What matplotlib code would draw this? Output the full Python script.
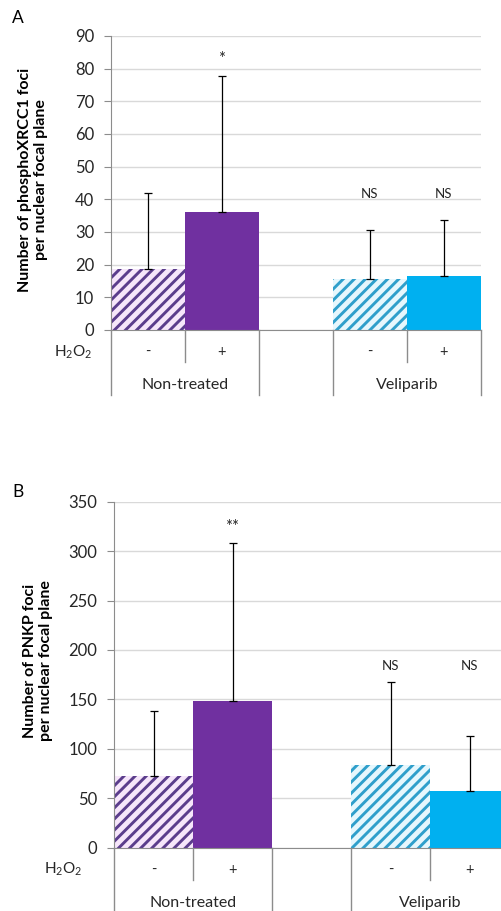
import matplotlib
matplotlib.use("Agg")
import matplotlib.pyplot as plt
import numpy as np

# values
conditions = ["-", "+", "", "-", "+"]
groups = ["Non-treated", "Veliparib"]

xrcc1_mean = [18.8, 36.2, 15.6, 16.5]
xrcc1_err = [23.1, 41.6, 15.1, 17.1]
xrcc1_sig = ["", "*", "NS", "NS"]

pnkp_mean = [72.5, 148.0, 84.0, 57.3]
pnkp_err = [66.0, 160.0, 84.0, 56.0]
pnkp_sig = ["", "**", "NS", "NS"]

PURPLE = "#7030A0"
BLUE = "#00B0F0"
GRID = "#D9D9D9"
AXIS = "#8C8C8C"
TEXT = "#262626"

plt.rcParams.update({
    "font.family": ["Lato", "DejaVu Sans"],
    "font.size": 10,
    "hatch.linewidth": 2.1,
    "mathtext.fontset": "custom",
    "mathtext.rm": "Lato",
    "mathtext.it": "Lato:italic",
    "mathtext.bf": "Lato:bold",
})

W, H = 502, 911
fig = plt.figure(figsize=(W / 100, H / 100), dpi=100)


def panel(rect_px, means, errs, sigs, ymax, ystep, ylabel, sig_y, ns_y,
          label_xy, h2o2_x, outer_to_bottom):
    left, top, width, height = rect_px
    ax = fig.add_axes([left / W, 1 - (top + height) / H, width / W, height / H])
    slots = [0, 1, 3, 4]
    faces = ["#F6E6FA", PURPLE, "#E6F7FD", BLUE]
    hatch_cols = ["#5B3D8C", PURPLE, "#2F9FCB", BLUE]
    hatches = ["///", None, "///", None]
    for s, m, e, fc, hc, hh in zip(slots, means, errs, faces, hatch_cols, hatches):
        ax.bar(s, m, width=1.0, color=fc, edgecolor=hc if hh else fc,
               hatch=hh, linewidth=0, zorder=2)
        ax.errorbar(s, m, yerr=[[0], [e]], color="black", elinewidth=0.9,
                    capsize=3, capthick=0.9, zorder=3)
    for s, t in zip(slots, sigs):
        if t.startswith("*"):
            ax.text(s, sig_y, t, ha="center", va="center", fontsize=12,
                    color=TEXT)
        elif t:
            ax.text(s, ns_y, t, ha="center", va="center", fontsize=9.5,
                    color=TEXT)

    ax.set_xlim(-0.5, 4.5)
    ax.set_ylim(0, ymax)
    ax.set_yticks(np.arange(0, ymax + 1, ystep))
    ax.yaxis.grid(True, color=GRID, linewidth=1.0, zorder=0)
    ax.set_axisbelow(True)
    ax.set_xticks([])
    for sp in ["top", "right"]:
        ax.spines[sp].set_visible(False)
    ax.spines["left"].set_color(AXIS)
    ax.spines["bottom"].set_color(AXIS)
    ax.tick_params(axis="y", length=5, color=AXIS, labelsize=12, pad=7,
                   labelcolor=TEXT)
    ax.set_ylabel(ylabel, fontweight="bold", fontsize=11.5, linespacing=1.2,
                  color="black")
    ax.yaxis.set_label_coords(label_xy[0], label_xy[1])

    # category axis below the plot, drawn in pixel offsets from zero line
    tr = ax.get_xaxis_transform()
    fr = lambda px: -px / height
    bottom_px = H - (top + height)
    for x in [-0.5, 4.5, 1.5, 2.5]:
        end = fr(bottom_px + 2) if outer_to_bottom else fr(65)
        ax.plot([x, x], [0, end], transform=tr, color=AXIS, lw=1.0,
                clip_on=False)
    for x in [0.5, 3.5]:
        ax.plot([x, x], [0, fr(32)], transform=tr, color=AXIS, lw=1.0,
                clip_on=False)
    for s, c in enumerate(conditions):
        if c:
            ax.text(s, fr(22), c, transform=tr, ha="center", va="center",
                    fontsize=10.5, color=TEXT)
    ax.text(0.5, fr(55), groups[0], transform=tr, ha="center", va="center",
            fontsize=11.5, color=TEXT)
    ax.text(3.5, fr(55), groups[1], transform=tr, ha="center", va="center",
            fontsize=11.5, color=TEXT)
    ax.text(h2o2_x / W, 1 - (top + height + 22) / H, r"H$_\mathrm{2}$O$_\mathrm{2}$",
            transform=fig.transFigure, ha="center", va="center",
            fontsize=11, color=TEXT)
    return ax


panel((111, 36, 370, 294), xrcc1_mean, xrcc1_err, xrcc1_sig, 90, 10,
      "Number of phosphoXRCC1 foci\nper nuclear focal plane", 83, 41.6,
      (-0.17, 0.51), 73, False)
panel((114, 501.7, 395, 346), pnkp_mean, pnkp_err, pnkp_sig, 350, 50,
      "Number of PNKP foci\nper nuclear focal plane", 324, 184,
      (-0.155, 0.54), 63, True)

fig.text(18 / W, 1 - 18 / H, "A", fontsize=12.5, ha="center", va="center")
fig.text(18 / W, 1 - 492 / H, "B", fontsize=12.5, ha="center", va="center")

fig.savefig("out.png", dpi=100)
